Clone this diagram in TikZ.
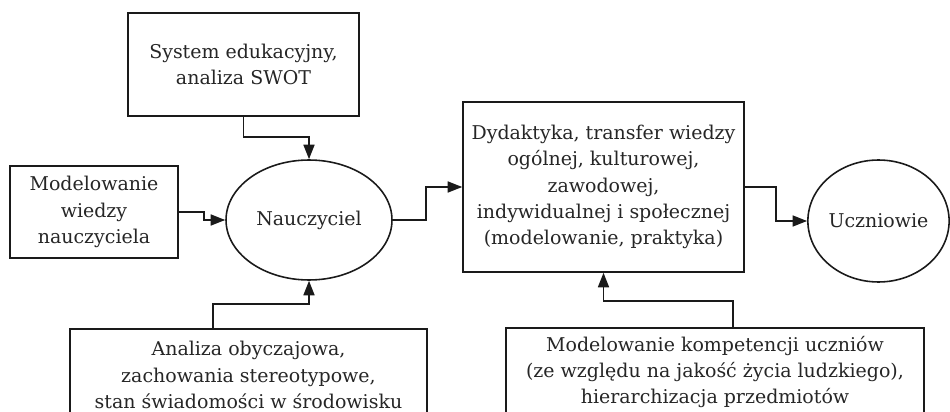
\documentclass[tikz,border=0pt]{standalone}
\usepackage{fontspec}
\setmainfont{DejaVu Serif}
\usepackage{xcolor}
\definecolor{inkline}{HTML}{1A1A1A}
\definecolor{inktext}{HTML}{262626}
\usepackage{tikz}
\usetikzlibrary{shapes.geometric, arrows.meta}
\tikzset{
  pbox/.style ={rectangle, draw=inkline, line width=0.9pt, fill=white, text=inktext, align=center,
                inner sep=3pt, font=\fontsize{10.8}{15}\selectfont},
  pell/.style ={ellipse, draw=inkline, line width=0.9pt, fill=white, text=inktext, align=center,
                inner sep=0pt, font=\fontsize{10.8}{15}\selectfont},
  parr/.style ={-{Triangle[length=2.9mm, width=2.2mm]}, line width=0.9pt, color=inkline},
}

\begin{document}
\begin{tikzpicture}[x=0.02cm, y=-0.02cm]
  \clip (0,0) rectangle (950,412);
  \node[pbox, minimum width=4.62cm, minimum height=2.06cm] (sys) at (243.5,64.5) {System edukacyjny,\\analiza SWOT};
  \node[pbox, minimum width=3.36cm, minimum height=1.84cm] (mod) at (94,212) {Modelowanie\\wiedzy\\nauczyciela};
  \node[pell, minimum width=3.32cm, minimum height=2.4cm] (nau) at (309,220) {Nauczyciel};
  \node[pbox, minimum width=7.14cm, minimum height=1.84cm] (ana) at (248.5,375) {Analiza obyczajowa,\\zachowania stereotypowe,\\stan świadomości w środowisku};
  \node[pbox, minimum width=5.62cm, minimum height=3.4cm] (did) at (603.5,187) {Dydaktyka, transfer wiedzy\\ogólnej, kulturowej,\\zawodowej,\\indywidualnej i społecznej\\(modelowanie, praktyka)};
  \node[pell, minimum width=2.82cm, minimum height=2.44cm] (ucz) at (878.5,221) {Uczniowie};
  \node[pbox, minimum width=8.36cm, minimum height=1.76cm] (kom) at (715,372) {Modelowanie kompetencji uczniów\\(ze względu na jakość życia ludzkiego),\\hierarchizacja przedmiotów};
  % connectors
  \draw[parr] (sys.south) -- ++(0,20) -| (nau.north);
  \draw[parr] (mod.east) -- ++(25,0) |- (nau.west);
  \draw[parr] ([xshift=2.88cm]ana.north west) -- ++(0,-24) -| (nau.south);
  \draw[parr] (nau.east) -- ++(33,0) |- (did.west);
  \draw[parr] (did.east) -- ++(31,0) |- (ucz.west);
  \draw[parr] ([xshift=0.36cm]kom.north) -- ++(0,-26) -| (did.south);
\end{tikzpicture}
\end{document}
